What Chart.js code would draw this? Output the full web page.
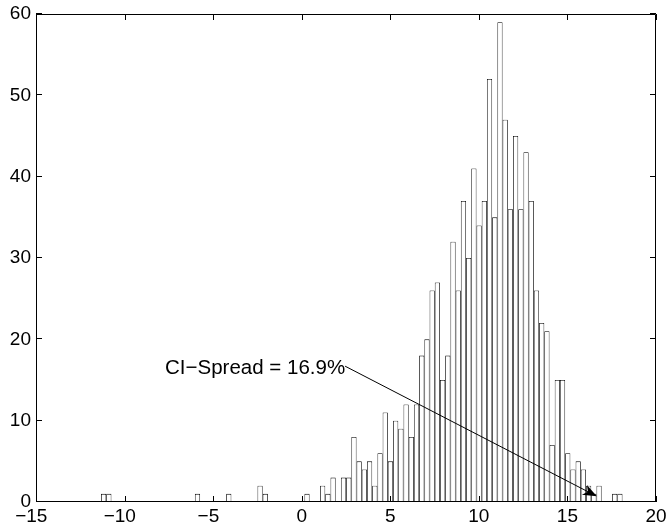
<!DOCTYPE html>
<html>
<head>
<meta charset="utf-8">
<script src="https://cdn.jsdelivr.net/npm/chart.js@4.4.1/dist/chart.umd.min.js"></script>
<style>
  html, body { margin: 0; padding: 0; background: #fff; }
  #wrap { width: 669px; height: 528px; position: relative; }
</style>
</head>
<body>
<div id="wrap"><canvas id="hist"></canvas></div>
<script>
'use strict';

// ── Data (100 equal-width bins) ──────────────────────────────────────────────
const BIN_FIRST_EDGE = -11.33;
const BIN_LAST_EDGE  = 18.11;
const COUNTS = [
  1, 1, 0, 0, 0, 0, 0, 0, 0, 0,
  0, 0, 0, 0, 0, 0, 0, 0, 1, 0,
  0, 0, 0, 0, 1, 0, 0, 0, 0, 0,
  2, 1, 0, 0, 0, 0, 0, 0, 0, 1,
  0, 0, 2, 1, 3, 0, 3, 3, 8, 5,
  4, 5, 2, 6, 11, 5, 10, 9, 12, 8,
  12, 18, 20, 26, 27, 15, 18, 32, 26, 37,
  30, 41, 34, 37, 52, 35, 59, 47, 36, 45,
  36, 43, 37, 26, 22, 21, 7, 15, 15, 6,
  4, 5, 4, 2, 1, 2, 0, 0, 1, 1,
];
const X_TICKS = [-15, -10, -5, 0, 5, 10, 15, 20];
const Y_TICKS = [0, 10, 20, 30, 40, 50, 60];

// text arrow annotation, in data coordinates
const NOTE_TEXT = 'CI\u2212Spread = 16.9%';
const NOTE_TAIL = [2.45, 16.7];
const NOTE_HEAD = [16.66, 0.7];

// ── Helpers ─────────────────────────────────────────────────────────────────
const FONT = '"Liberation Sans", Arial, Helvetica, sans-serif';
const binWidth = (BIN_LAST_EDGE - BIN_FIRST_EDGE) / COUNTS.length;
const points = COUNTS.map(function (c, i) {
  return { x: BIN_FIRST_EDGE + (i + 0.5) * binWidth, y: c };
});

function fmt(v) {
  return v < 0 ? '\u2212' + Math.abs(v) : String(v);
}
// negative x labels sit a bit left of their tick in the original
function fmtX(v) {
  return v < 0 ? fmt(v) + '\u2002' : fmt(v);
}

// matlab-ish box, inward ticks and the text arrow
const axesBox = {
  id: 'axesBox',
  afterDatasetsDraw(chart) {
    const ctx = chart.ctx;
    const a = chart.chartArea;
    const xs = chart.scales.x, ys = chart.scales.y;
    const TL = 6;
    ctx.save();
    ctx.strokeStyle = '#000';
    ctx.lineWidth = 1;
    ctx.beginPath();
    ctx.rect(a.left + 0.5, a.top + 0.5, a.right - a.left - 1, a.bottom - a.top - 1);
    X_TICKS.forEach(function (v) {
      const px = Math.round(xs.getPixelForValue(v)) + 0.5;
      ctx.moveTo(px, a.bottom); ctx.lineTo(px, a.bottom - TL);
      ctx.moveTo(px, a.top);    ctx.lineTo(px, a.top + TL);
    });
    Y_TICKS.forEach(function (v) {
      const py = Math.round(ys.getPixelForValue(v)) - 0.5;
      ctx.moveTo(a.left, py);  ctx.lineTo(a.left + TL, py);
      ctx.moveTo(a.right, py); ctx.lineTo(a.right - TL, py);
    });
    ctx.stroke();

    // arrow
    const tx = xs.getPixelForValue(NOTE_TAIL[0]), ty = ys.getPixelForValue(NOTE_TAIL[1]);
    const hx = xs.getPixelForValue(NOTE_HEAD[0]), hy = ys.getPixelForValue(NOTE_HEAD[1]);
    const ang = Math.atan2(hy - ty, hx - tx);
    const len = 14, half = 5.5, back = 10;
    ctx.beginPath();
    ctx.moveTo(tx, ty);
    ctx.lineTo(hx - Math.cos(ang) * back, hy - Math.sin(ang) * back);
    ctx.stroke();
    ctx.fillStyle = '#000';
    ctx.beginPath();
    ctx.moveTo(hx, hy);
    ctx.lineTo(hx - Math.cos(ang) * len + Math.sin(ang) * half,
               hy - Math.sin(ang) * len - Math.cos(ang) * half);
    ctx.lineTo(hx - Math.cos(ang) * back, hy - Math.sin(ang) * back);
    ctx.lineTo(hx - Math.cos(ang) * len - Math.sin(ang) * half,
               hy - Math.sin(ang) * len + Math.cos(ang) * half);
    ctx.closePath();
    ctx.fill();

    ctx.font = '20.5px ' + FONT;
    ctx.textAlign = 'right';
    ctx.textBaseline = 'middle';
    ctx.fillText(NOTE_TEXT, tx, ty + 2);
    ctx.restore();
  },
};

// ── Chart ───────────────────────────────────────────────────────────────────
new Chart(document.getElementById('hist'), {
  type: 'bar',
  data: {
    datasets: [{
      data: points,
      backgroundColor: '#fff',
      borderColor: '#000',
      borderWidth: 0.8,
      borderSkipped: false,
      inflateAmount: 0,
      barPercentage: 1,
      categoryPercentage: 1,
    }],
  },
  options: {
    responsive: true,
    maintainAspectRatio: false,
    animation: false,
    devicePixelRatio: 1,
    layout: { padding: { top: 14, right: 13, left: 0, bottom: 0 } },
    plugins: { legend: { display: false }, tooltip: { enabled: false } },
    scales: {
      x: {
        type: 'linear',
        offset: false,
        min: -15,
        max: 20,
        afterBuildTicks: function (s) { s.ticks = X_TICKS.map(function (v) { return { value: v }; }); },
        afterFit: function (s) {
          s.height = 26;
          s.paddingLeft = 0; s.paddingRight = 0;
        },
        grid: { display: false, drawTicks: false },
        border: { display: false },
        ticks: {
          padding: 3,
          maxRotation: 0,
          autoSkip: false,
          color: '#000',
          font: { family: FONT, size: 19 },
          callback: fmtX,
        },
      },
      y: {
        min: 0,
        max: 60,
        afterBuildTicks: function (s) { s.ticks = Y_TICKS.map(function (v) { return { value: v }; }); },
        afterFit: function (s) {
          s.width = 36;
          s.paddingTop = 0; s.paddingBottom = 0;
        },
        grid: { display: false, drawTicks: false },
        border: { display: false },
        ticks: {
          padding: 5,
          autoSkip: false,
          color: '#000',
          font: { family: FONT, size: 19 },
          callback: fmt,
        },
      },
    },
  },
  plugins: [axesBox],
});
</script>
</body>
</html>
